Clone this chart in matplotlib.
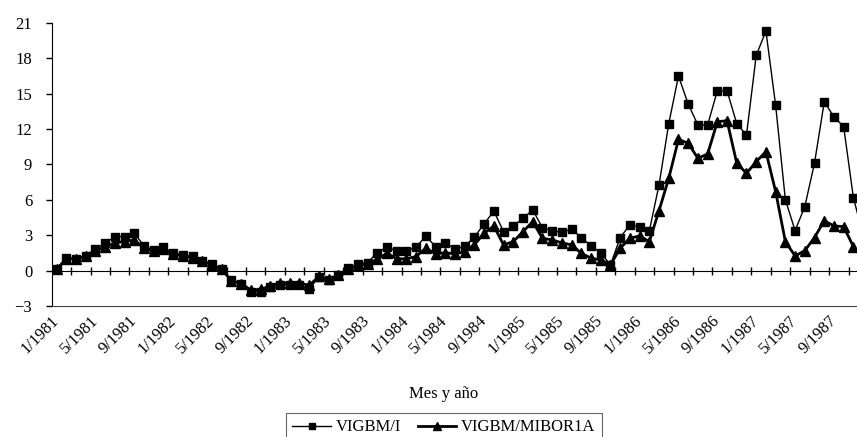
import numpy as np
import matplotlib
matplotlib.use('Agg')
import matplotlib.pyplot as plt

# monthly series, 1/1981 .. 12/1987
vigbm_i = [0.12, 1.05, 0.99, 1.24, 1.87, 2.32, 2.88, 2.88, 3.17, 2.10, 1.72, 2.00,
           1.47, 1.33, 1.20, 0.84, 0.54, 0.12, -0.82, -1.13, -1.78, -1.78, -1.41, -1.21,
           -1.21, -1.21, -1.58, -0.51, -0.79, -0.36, 0.20, 0.57, 0.68, 1.52, 1.98, 1.67,
           1.67, 1.98, 2.94, 2.03, 2.37, 1.81, 2.05, 2.85, 3.95, 5.05, 3.30, 3.78,
           4.43, 5.14, 3.64, 3.36, 3.25, 3.50, 2.80, 2.09, 1.52, 0.48, 2.80, 3.87,
           3.73, 3.36, 7.26, 12.45, 16.49, 14.12, 12.34, 12.34, 15.24, 15.24, 12.45, 11.49,
           18.24, 20.30, 14.00, 6.01, 3.39, 5.42, 9.12, 14.29, 13.04, 12.19, 6.18, 3.00]

vigbm_mibor = [0.10, 1.00, 1.00, 1.20, 1.70, 2.00, 2.35, 2.45, 2.60, 1.90, 1.65, 1.80,
               1.40, 1.25, 1.10, 0.80, 0.50, 0.10, -0.85, -1.10, -1.65, -1.60, -1.30, -1.05,
               -1.05, -1.05, -1.25, -0.50, -0.75, -0.40, 0.10, 0.45, 0.55, 0.95, 1.47, 1.00,
               1.00, 1.19, 1.90, 1.41, 1.52, 1.41, 1.61, 2.20, 3.16, 3.78, 2.18, 2.46,
               3.30, 4.15, 2.74, 2.60, 2.35, 2.18, 1.47, 1.05, 0.91, 0.48, 1.90, 2.74,
               2.94, 2.46, 5.08, 7.82, 11.12, 10.79, 9.52, 9.88, 12.62, 12.70, 9.09, 8.25,
               9.23, 10.08, 6.69, 2.46, 1.24, 1.69, 2.80, 4.23, 3.78, 3.73, 2.03, 1.00]

tick_labels = ['1/1981', '5/1981', '9/1981', '1/1982', '5/1982', '9/1982', '1/1983',
               '5/1983', '9/1983', '1/1984', '5/1984', '9/1984', '1/1985', '5/1985',
               '9/1985', '1/1986', '5/1986', '9/1986', '1/1987', '5/1987', '9/1987']

plt.rcParams['font.family'] = ['Liberation Serif', 'DejaVu Serif']
plt.rcParams['font.size'] = 12

x = np.arange(len(vigbm_i))

fig = plt.figure(figsize=(8.57, 4.37), dpi=100)
ax = fig.add_axes([0.0603, 0.2998, 0.9525, 0.648])

ax.plot(x, vigbm_mibor, color='black', lw=2.0, marker='^', ms=6.5, zorder=3,
        label='VIGBM/MIBOR1A')
ax.plot(x, vigbm_i, color='black', lw=1.0, marker='s', ms=5.5, zorder=4,
        label='VIGBM/I')

ax.set_xlim(-0.5, len(x) - 0.5)
ax.set_ylim(-3, 21)
ax.set_yticks(np.arange(-3, 22, 3))
ax.tick_params(axis='y', direction='out', length=4, width=1, pad=10, labelsize=12)

# category labels under the bottom line
ax.set_xticks(x[::4])
ax.set_xticklabels(tick_labels, rotation=45, ha='right', va='center',
                   rotation_mode='anchor')
ax.tick_params(axis='x', length=0, pad=9, labelsize=12)

for s in ['top', 'right']:
    ax.spines[s].set_visible(False)
ax.spines['left'].set_color('black')
ax.spines['bottom'].set_color('#404040')

# category axis crossing at zero
zero_axis = ax.secondary_xaxis(3 / 24)
zero_axis.set_xticks(np.arange(1.5, len(x), 2))
zero_axis.tick_params(direction='inout', length=6, width=1, labelbottom=False)
zero_axis.spines['bottom'].set_color('black')

fig.text(0.518, 0.098, 'Mes y año', ha='center', va='center', fontsize=12)

h, l = ax.get_legend_handles_labels()
leg = fig.legend(h[::-1], l[::-1], loc='upper center', bbox_to_anchor=(0.518, 0.0556),
                 ncol=2, frameon=True, fancybox=False, fontsize=12,
                 handlelength=2.3, handletextpad=0.3, columnspacing=1.0,
                 borderaxespad=0, borderpad=0.4, markerscale=0.8)
leg.get_frame().set_edgecolor('#404040')
leg.get_frame().set_linewidth(0.8)

fig.savefig('out.png', dpi=100)
